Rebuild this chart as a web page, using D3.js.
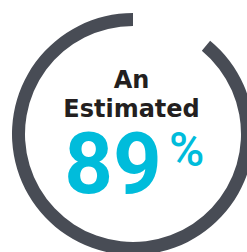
<!DOCTYPE html>
<html>
<head>
<meta charset="utf-8">
<script src="https://cdn.jsdelivr.net/npm/d3@7"></script>
<style>
  body { margin: 0; background: #fff; }
  svg { display: block; }
</style>
</head>
<body>
<script>
var headline = ['An', 'Estimated']
var percent = [89]
var unit = ['%']

var w = 247
var h = 252

var cx = 133
var cy = 134
var outerR = 121
var innerR = 108

var svg = d3.select('body')
            .append('svg')
            .attr('width', w)
            .attr('height', h)

var chart = svg.append('g')
              .attr('transform', 'translate(' + cx + ',' + cy + ')')

// share of the ring that is filled, drawn so that it ends at 12 o'clock
var angle = d3.scaleLinear()
            .domain([0, 100])
            .range([0, 2 * Math.PI])

var arc = d3.arc()
          .innerRadius(innerR)
          .outerRadius(outerR)
          .startAngle(function (d) {
            return angle(100 - d)
          })
          .endAngle(angle(100))

chart.selectAll('.ring')
    .data(percent)
    .enter()
      .append('path')
      .classed('ring', true)
      .attr('d', arc)
      .style('fill', '#484c55')

// HEADLINE
chart.selectAll('.headline')
  .data(headline)
  .enter()
    .append('text')
    .classed('headline', true)
    .text(function (d) { return d })
    .attr('x', -1.5)
    .attr('y', function (d, i) { return -46 + i * 29 })
    .attr('text-anchor', 'middle')
    .style('font-family', 'DejaVu Sans')
    .style('font-weight', 'bold')
    .style('font-size', '24px')
    .style('fill', '#231f20')

// BIG NUMBER
chart.selectAll('.value')
  .data(percent)
  .enter()
    .append('text')
    .classed('value', true)
    .text(function (d) { return d })
    .attr('x', -20)
    .attr('y', 59)
    .attr('text-anchor', 'middle')
    .style('font-family', 'Roboto')
    .style('font-weight', 'bold')
    .style('font-size', '85px')
    .style('fill', '#00bcdb')

chart.append('text')
    .text(unit[0])
    .attr('x', 36)
    .attr('y', 32)
    .style('font-family', 'Roboto')
    .style('font-weight', 500)
    .style('font-size', '48px')
    .style('fill', '#00bcdb')
</script>
</body>
</html>
